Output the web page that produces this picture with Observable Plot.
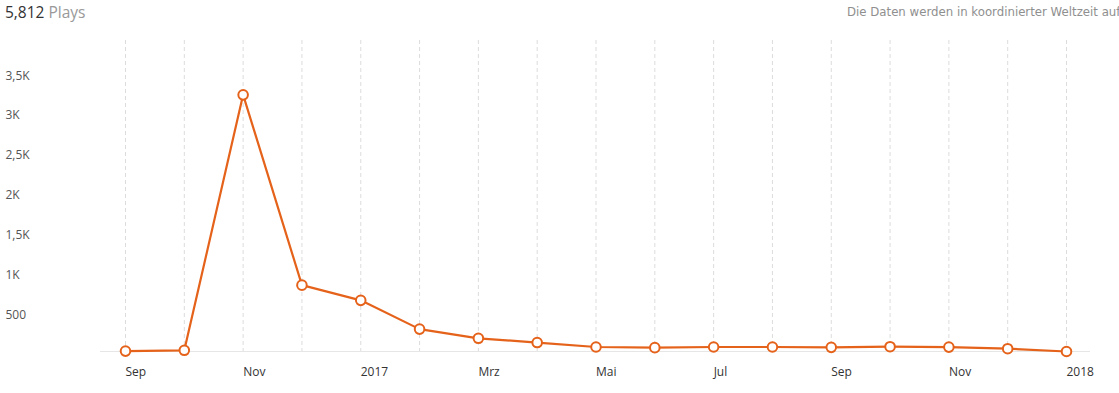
<!DOCTYPE html>
<html>
<head>
<meta charset="utf-8">
<script src="https://cdn.jsdelivr.net/npm/d3@7"></script>
<script src="https://cdn.jsdelivr.net/npm/@observablehq/plot@0.6"></script>
<style>
  html, body { margin: 0; padding: 0; background: #fff; }
  body { width: 1119px; height: 393px; overflow: hidden; position: relative; font-family: "Open Sans", sans-serif; }
  #title { position: absolute; left: 5px; top: 1px; font-size: 15.5px; color: #333; white-space: nowrap; }
  #title span { color: #999; }
  #note { position: absolute; left: 847px; top: 5px; font-family: "DejaVu Sans", sans-serif; font-size: 11.75px; color: #8f8f8f; white-space: nowrap; }
  #chart { position: absolute; left: 0; top: 0; }
</style>
</head>
<body>
<div id="chart"></div>
<div id="title">5,812 <span>Plays</span></div>
<div id="note">Die Daten werden in koordinierter Weltzeit aufgezeichnet</div>
<script>
const months = ["2016-09","2016-10","2016-11","2016-12","2017-01","2017-02","2017-03","2017-04","2017-05","2017-06","2017-07","2017-08","2017-09","2017-10","2017-11","2017-12","2018-01"];
const plays = [5, 15, 3210, 830, 640, 280, 165, 112, 56, 48, 56, 56, 52, 60, 55, 35, 0];
const xTickMonths = ["2016-09","2016-11","2017-01","2017-03","2017-05","2017-07","2017-09","2017-11","2018-01"];
const xTickLabels = ["Sep","Nov","2017","Mrz","Mai","Jul","Sep","Nov","2018"];
const yTicks = [500, 1000, 1500, 2000, 2500, 3000, 3500];
const yTickLabels = ["500","1K","1,5K","2K","2,5K","3K","3,5K"];

const idx = m => months.indexOf(m);
const data = months.map((m, i) => ({i: idx(m), month: m, plays: plays[i]}));
const xLabel = new Map(xTickMonths.map((m, i) => [idx(m), xTickLabels[i]]));
const yLabel = new Map(yTicks.map((v, i) => [v, yTickLabels[i]]));
const orange = "#e5621a";

const chart = Plot.plot({
  width: 1119,
  height: 393,
  marginLeft: 125,
  marginRight: 53,
  marginTop: 40,
  marginBottom: 42,
  style: {fontFamily: "Open Sans, sans-serif", fontSize: "12px", background: "transparent"},
  x: {type: "linear", domain: [0, months.length - 1], label: null},
  y: {domain: [0, 3890], label: null},
  marks: [
    Plot.ruleX(months.map(idx), {stroke: "#dcdcdc", strokeDasharray: "4,3", strokeWidth: 1}),
    Plot.ruleY([0], {stroke: "#e6e6e6", strokeWidth: 1, insetLeft: -25, insetRight: -24}),
    Plot.axisX(xTickMonths.map(idx), {tickSize: 0, tickPadding: 16, textAnchor: "start", tickFormat: d => xLabel.get(d), fill: "#333", fontSize: 12, label: null}),
    Plot.axisY(yTicks, {tickSize: 0, tickPadding: 0, textAnchor: "start", dx: -120, dy: 4, tickFormat: d => yLabel.get(d), fill: "#555", fontSize: 12, label: null}),
    Plot.line(data, {x: "i", y: "plays", stroke: orange, strokeWidth: 2.2}),
    Plot.dot(data, {x: "i", y: "plays", r: 4.8, fill: "white", stroke: orange, strokeWidth: 2})
  ]
});
document.getElementById("chart").appendChild(chart);
</script>
</body>
</html>
